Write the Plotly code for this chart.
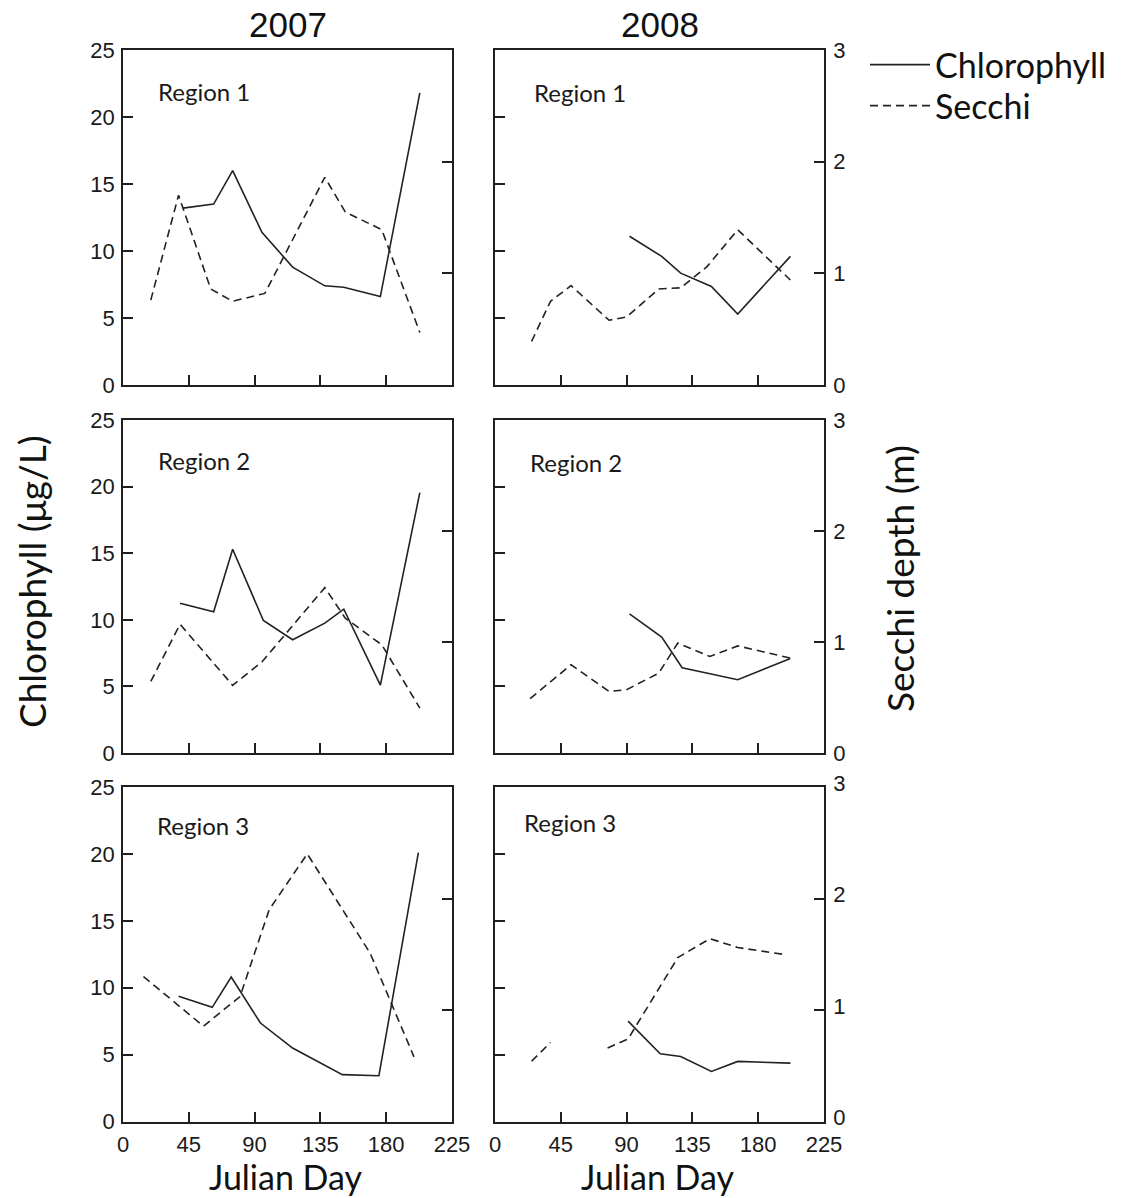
import plotly.graph_objects as go

# ---- data: Julian day vs. chlorophyll (ug/L) and Secchi depth (m) ----
years = ["2007", "2008"]
regions = ["Region 1", "Region 2", "Region 3"]
day_ticks = [0, 45, 90, 135, 180, 225]
chl_ticks = [0, 5, 10, 15, 20, 25]
secchi_ticks = [0, 1, 2, 3]

# 2007
chl_day_2007_r1 = [41, 62, 75, 95, 116, 138, 151, 176, 203]
chl_2007_r1 = [13.2, 13.5, 16.0, 11.4, 8.8, 7.4, 7.3, 6.6, 21.8]
sec_day_2007_r1 = [19, 38, 60, 75, 97, 138, 152, 177, 203]
sec_2007_r1 = [0.76, 1.70, 0.86, 0.75, 0.82, 1.86, 1.55, 1.39, 0.47]

chl_day_2007_r2 = [39, 62, 75, 96, 116, 138, 151, 176, 203]
chl_2007_r2 = [11.25, 10.6, 15.3, 9.95, 8.5, 9.75, 10.8, 5.1, 19.55]
sec_day_2007_r2 = [19, 39, 75, 95, 138, 152, 177, 203]
sec_2007_r2 = [0.645, 1.16, 0.61, 0.82, 1.49, 1.215, 0.975, 0.405]

chl_day_2007_r3 = [38, 61, 74, 94, 116, 150, 175, 202]
chl_2007_r3 = [9.36, 8.53, 10.8, 7.36, 5.49, 3.5, 3.42, 20.09]
sec_day_2007_r3 = [14, 55, 80, 100, 126, 169, 199]
sec_2007_r3 = [1.30, 0.855, 1.12, 1.90, 2.40, 1.51, 0.58]

# 2008
chl_day_2008_r1 = [92, 114, 127, 148, 166, 202]
chl_2008_r1 = [11.1, 9.6, 8.35, 7.35, 5.3, 9.6]
sec_day_2008_r1 = [25, 38, 52, 78, 90, 112, 127, 145, 166, 202]
sec_2008_r1 = [0.39, 0.75, 0.89, 0.58, 0.61, 0.86, 0.87, 1.06, 1.39, 0.94]

chl_day_2008_r2 = [92, 114, 128, 166, 202]
chl_2008_r2 = [10.45, 8.7, 6.4, 5.5, 7.1]
sec_day_2008_r2 = [24, 52, 78, 90, 112, 125, 147, 166, 202]
sec_2008_r2 = [0.49, 0.795, 0.555, 0.57, 0.72, 0.99, 0.87, 0.965, 0.855]

chl_day_2008_r3 = [91, 113, 127, 148, 166, 202]
chl_2008_r3 = [7.5, 5.06, 4.86, 3.74, 4.49, 4.36]
sec_day_2008_r3 = [25, 38, None, 77, 91, 125, 147, 166, 197]
sec_2008_r3 = [0.54, 0.71, None, 0.66, 0.74, 1.47, 1.64, 1.56, 1.50]

panels = [
    # (row, col, chl days, chl, secchi days, secchi)
    (0, 0, chl_day_2007_r1, chl_2007_r1, sec_day_2007_r1, sec_2007_r1),
    (0, 1, chl_day_2008_r1, chl_2008_r1, sec_day_2008_r1, sec_2008_r1),
    (1, 0, chl_day_2007_r2, chl_2007_r2, sec_day_2007_r2, sec_2007_r2),
    (1, 1, chl_day_2008_r2, chl_2008_r2, sec_day_2008_r2, sec_2008_r2),
    (2, 0, chl_day_2007_r3, chl_2007_r3, sec_day_2007_r3, sec_2007_r3),
    (2, 1, chl_day_2008_r3, chl_2008_r3, sec_day_2008_r3, sec_2008_r3),
]

# region label placement inside each panel (fraction of panel domain)
label_pos = {
    (0, 0): (0.100, 0.875), (0, 1): (0.113, 0.872),
    (1, 0): (0.100, 0.877), (1, 1): (0.100, 0.871),
    (2, 0): (0.097, 0.886), (2, 1): (0.082, 0.895),
}

W, H = 1136, 1198
LINE = "#222222"
FRAME = "#1f1f1f"
TICK_FONT = dict(family="Liberation Sans, Arial, sans-serif", size=22, color="#1a1a1a")
TEXT_FONT = "Lato, Calibri, sans-serif"

xdom = [[123 / W, 452 / W], [495 / W, 824 / W]]
ydom = [[1 - 385 / H, 1 - 50 / H],
        [1 - 753 / H, 1 - 420 / H],
        [1 - 1121.5 / H, 1 - 787 / H]]

fig = go.Figure()
layout = {}
annotations = []

for i, (r, c, cd, cv, sd, sv) in enumerate(panels):
    n = i + 1
    xname = "x" if n == 1 else f"x{n}"
    ychl_n, ysec_n = 2 * i + 1, 2 * i + 2
    ychl = "y" if ychl_n == 1 else f"y{ychl_n}"
    ysec = f"y{ysec_n}"

    fig.add_trace(go.Scatter(
        x=cd, y=cv, xaxis=xname, yaxis=ychl, mode="lines",
        line=dict(color=LINE, width=1.6), name="Chlorophyll",
        showlegend=(i == 0), legend="legend", connectgaps=False,
        hoverinfo="x+y"))
    fig.add_trace(go.Scatter(
        x=sd, y=sv, xaxis=xname, yaxis=ysec, mode="lines",
        line=dict(color=LINE, width=1.6, dash="8px,5px"), name="Secchi",
        showlegend=(i == 0), legend="legend2", connectgaps=False,
        hoverinfo="x+y"))

    common = dict(showgrid=False, zeroline=False, showline=True,
                  linecolor=FRAME, linewidth=1.7, ticks="inside",
                  ticklen=10, tickwidth=1.5, tickcolor=FRAME,
                  tickfont=TICK_FONT, automargin=False)

    layout["xaxis" if n == 1 else f"xaxis{n}"] = dict(
        common, domain=xdom[c], anchor=ychl, range=[0, 225],
        tickvals=day_ticks, mirror=True, showticklabels=(r == 2),
        ticklabelstandoff=2)
    layout["yaxis" if ychl_n == 1 else f"yaxis{ychl_n}"] = dict(
        common, domain=ydom[r], anchor=xname, range=[0, 25],
        tickvals=chl_ticks, side="left", showticklabels=(c == 0),
        ticklabelstandoff=2)
    # bottom-row Secchi labels sit a little higher, clear of the day labels
    layout[f"yaxis{ysec_n}"] = dict(
        common, overlaying=ychl, anchor=xname, range=[0, 3],
        tickvals=secchi_ticks, side="right", showticklabels=(c == 1),
        ticklabelstandoff=3, ticklabelshift=(-4 if r == 2 else 0))

    lx, ly = label_pos[(r, c)]
    annotations.append(dict(
        text=regions[r], x=lx, y=ly, xref=f"{xname} domain",
        yref=f"{ychl} domain", xanchor="left", yanchor="middle",
        showarrow=False, font=dict(family=TEXT_FONT, size=24, color="#1a1a1a")))

# column headings
for c, yr in enumerate(years):
    annotations.append(dict(
        text=yr, x=(xdom[c][0] + xdom[c][1]) / 2, y=1 - 24 / H,
        xref="paper", yref="paper", xanchor="center", yanchor="middle",
        showarrow=False,
        font=dict(family="Liberation Sans, Arial, sans-serif", size=35, color="#111")))

# shared axis titles
for c in range(2):
    annotations.append(dict(
        text="Julian Day", x=(xdom[c][0] + xdom[c][1]) / 2 - 2 / W, y=1 - 1176 / H,
        xref="paper", yref="paper", xanchor="center", yanchor="middle",
        showarrow=False, font=dict(family=TEXT_FONT, size=34, color="#111")))
annotations.append(dict(
    text="Chlorophyll (μg/L)", x=31 / W, y=1 - 582 / H, textangle=-90,
    xref="paper", yref="paper", xanchor="center", yanchor="middle",
    showarrow=False, font=dict(family=TEXT_FONT, size=37, color="#111")))
annotations.append(dict(
    text="Secchi depth (m)", x=899 / W, y=1 - 579 / H, textangle=-90,
    xref="paper", yref="paper", xanchor="center", yanchor="middle",
    showarrow=False, font=dict(family=TEXT_FONT, size=37, color="#111")))

legend_common = dict(xanchor="left", yanchor="top", itemwidth=60,
                     font=dict(family=TEXT_FONT, size=34, color="#111"),
                     bgcolor="rgba(0,0,0,0)")

fig.update_layout(
    **layout,
    annotations=annotations,
    width=W, height=H,
    margin=dict(l=0, r=0, t=0, b=0, autoexpand=False),
    paper_bgcolor="white", plot_bgcolor="white",
    legend=dict(legend_common, x=865 / W, y=1 - 36 / H),
    legend2=dict(legend_common, x=865 / W, y=1 - 77 / H),
)

fig.write_html("out.html")
